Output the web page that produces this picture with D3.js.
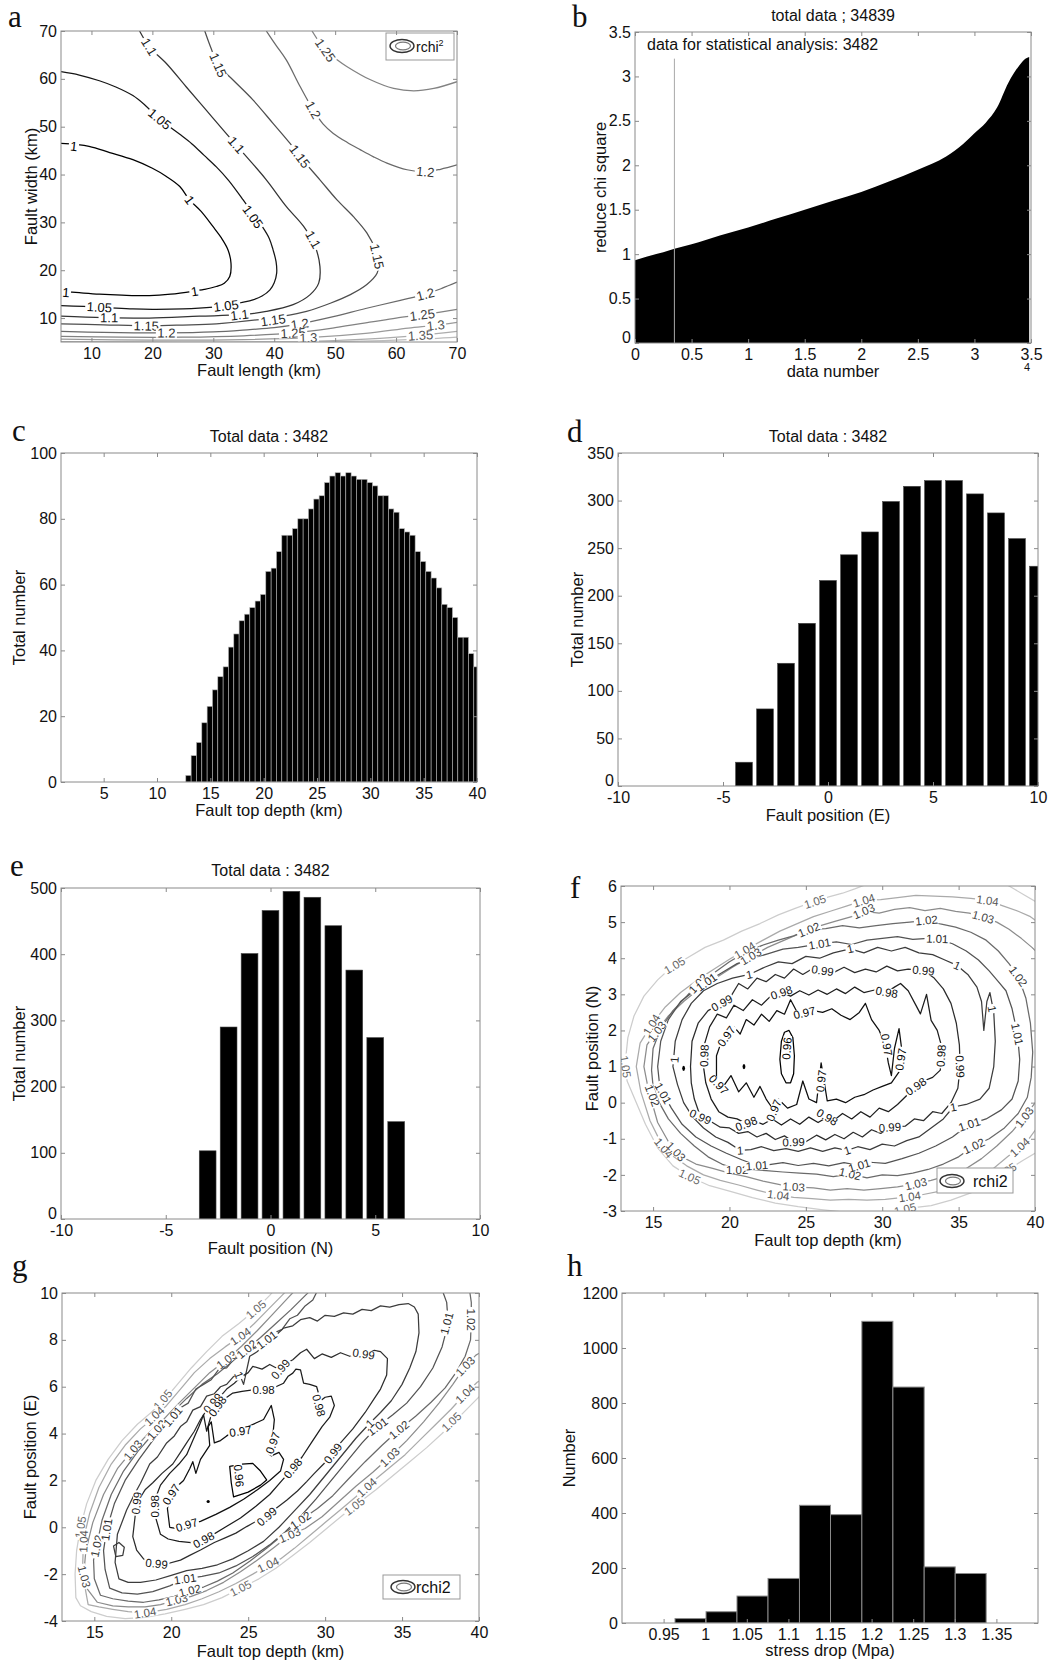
<!DOCTYPE html>
<html>
<head>
<meta charset="utf-8">
<script src="https://cdn.jsdelivr.net/npm/d3@7"></script>
<style>
body { margin: 0; background: #fff; }
</style>
</head>
<body>
<script>
// ---------- data ----------

// (a) rchi^2 over fault length / width
const a100 = [[5,46.5],[9.6,45.9],[13,44.6],[16.8,43.1],[20,41.3],[22.3,39.6],[24.5,37.5],[26.1,34.7],[28,32.3],[29.9,29.2],[31.3,26.8],[32.4,24.3],[32.9,21.5],[32.7,18.7],[31.8,17.3],[30.5,16.6],[28.5,16.0],[26.6,15.6],[23,15.0],[19.5,14.7],[15,14.8],[11.3,15.0],[8,15.3],[5,15.6]];
const a105 = [[5,61.5],[8,60.8],[11.3,59.6],[14,58.3],[16.8,56.5],[18.8,54.5],[20.6,52.3],[22.5,50.3],[24.5,48.4],[26.5,46.4],[28.5,44.0],[30.5,41.6],[32.5,38.8],[34.9,34.7],[36.6,31.6],[38.1,29.0],[39.2,26.6],[39.8,24.3],[40.3,21.8],[40.4,19.4],[40.0,17.4],[39.3,15.9],[38.0,14.6],[36.5,13.8],[34.5,13.2],[33.2,12.8],[30,12.3],[25,11.9],[20,11.8],[16.8,11.9],[11.3,12.3],[5,12.6]];
const a110 = [[17.9,70],[19.5,66.7],[22.3,63.2],[25.5,58.4],[28.8,53.5],[32.1,48.6],[35.4,43.8],[38.7,38.9],[42,33.3],[44.8,29.2],[46.7,25.0],[47.5,20.8],[47.3,17.3],[45.9,14.9],[43.1,12.8],[38.7,11.4],[34.3,10.7],[27.7,10.4],[19.5,10.0],[12,10.1],[5,10.4]];
const a115 = [[28.6,70],[29.6,66.5],[30.8,62.9],[33.2,59.8],[36.5,55.6],[39.8,50.7],[42.6,46.5],[44.2,43.8],[47.5,38.9],[50.3,34.7],[53,31.2],[55.2,27.8],[56.6,24.3],[57.1,21.5],[56.9,19.4],[55.2,17.0],[52.5,14.9],[49.2,13.1],[45.3,11.4],[41.5,10.4],[37.6,9.7],[30.5,8.8],[25,8.55],[19.5,8.4],[12,8.6],[5,8.8]];
const a120u = [[38.7,70],[40.3,67],[42,63.9],[44.2,58.5],[46.4,53.5],[48,50.6],[49.7,48.6],[52,46.7],[54.1,45.2],[56.3,43.7],[58.5,42.4],[61.8,41.0],[64.8,40.6],[67.3,41.1],[70,42.0]];
const a120l = [[5,7.2],[12,7.0],[22.3,6.9],[30,7.1],[36,7.6],[40,8.0],[44.2,8.8],[49.7,10.3],[55,12.0],[60.7,13.7],[64.8,15.0],[67.5,16.2],[70,17.5]];
const a125u = [[46.2,70],[48.4,66.0],[50.2,64.1],[51.9,62.6],[55.8,59.8],[59.6,58.0],[62.9,57.5],[66.2,58.0],[70,59.4]];
const a125l = [[5,6.2],[15,6.0],[25,6.0],[35,6.3],[43.1,6.9],[50,8.0],[56,9.2],[60,10.0],[64.3,10.7],[67,11.2],[70,11.8]];
const a130 = [[5,5.6],[20,5.4],[35,5.5],[45.6,5.9],[55,6.8],[62,7.9],[66.5,8.5],[70,9.1]];
const a135 = [[5,5.1],[25,5.0],[45,5.1],[55,5.6],[64,6.4],[70,7.2]];
const a140 = [[45,5.0],[58,5.3],[66,5.7],[70,6.0]];
const aLabels = [[1.1,19.5,66.7],[1.15,30.8,62.9],[1.25,48.4,66.0],[1.05,21.2,51.6],[1.2,46.4,53.5],[1.1,33.8,46.2],[1.15,44.2,43.8],[1.2,64.8,40.6],[1,7.1,45.9],[1,26.1,34.7],[1.05,36.5,31.2],[1.1,46.4,26.4],[1.15,56.9,22.9],[1,5.8,15.4],[1,26.9,15.6],[1.05,11.3,12.3],[1.05,32.1,12.6],[1.1,12.9,10.1],[1.1,34.3,10.7],[1.15,19.0,8.4],[1.15,39.8,9.6],[1.2,44.2,8.8],[1.2,64.8,15.0],[1.25,43.1,6.9],[1.25,64.3,10.7],[1.3,45.6,5.9],[1.3,66.5,8.5],[1.35,64.0,6.4],[1.2,22.3,6.9]];

// (b) sorted reduced chi square, x in units of 10^4
const bX = [0, 0.1, 0.25, 0.3482, 0.5, 0.75, 1, 1.25, 1.5, 1.75, 2, 2.25, 2.5, 2.75, 2.9, 3.0, 3.1, 3.2, 3.3, 3.4, 3.45, 3.4839];
const bY = [0.93, 0.97, 1.02, 1.06, 1.11, 1.21, 1.30, 1.40, 1.50, 1.60, 1.70, 1.82, 1.95, 2.10, 2.24, 2.36, 2.48, 2.65, 2.93, 3.13, 3.20, 3.22];
const bCut = 0.3482;

// (c) fault top depth histogram
const cCenters = [12.95,13.45,13.95,14.45,14.95,15.45,15.95,16.45,16.95,17.45,17.95,18.45,18.95,19.45,19.95,20.45,20.95,21.45,21.95,22.45,22.95,23.45,23.95,24.45,24.95,25.45,25.95,26.45,26.95,27.45,27.95,28.45,28.95,29.45,29.95,30.45,30.95,31.45,31.95,32.45,32.95,33.45,33.95,34.45,34.95,35.45,35.95,36.45,36.95,37.45,37.95,38.45,38.95,39.45,39.95];
const cCounts = [2,8,12,18,23,28,32,35,41,45,49,51,53,55,57,64,65,70,75,75,77,80,80,83,86,87,91,93,94,93,94,93,92,92,91,90,87,87,83,82,77,76,75,70,67,64,62,59,54,53,50,44,44,39,35];
const cBin = 0.5;

// (d) fault position (E)
const dCenters = [-4,-3,-2,-1,0,1,2,3,4,5,6,7,8,9,10];
const dCounts = [25,81,129,171,216,243,267,299,315,321,321,307,287,260,231];

// (e) fault position (N)
const eCenters = [-3,-2,-1,0,1,2,3,4,5,6];
const eCounts = [103,290,401,466,495,486,443,376,274,147];

// (f) rchi2 over fault top depth / position (N)
const f105 = [[13.15,1.0],[13.35,1.8],[13.75,2.4],[14.4,2.95],[15.3,3.4],[16.2,3.75],[17.2,4.0],[18.4,4.3],[19.6,4.5],[20.8,4.75],[22,4.96],[23.2,5.2],[24.3,5.38],[25.4,5.55],[26.5,5.7],[27.4,5.8],[28.2,5.92],[29,6.05],[31,6.4],[35,6.5],[37.5,6.2],[38.5,5.95],[39.3,5.75],[40.3,5.5],[41,5],[41,-1],[40.2,-1.35],[39.2,-1.6],[38.1,-1.9],[37,-2.2],[35.8,-2.5],[34.5,-2.7],[33.2,-2.85],[31.8,-2.92],[30.5,-3.05],[29,-3.08],[27.5,-3.03],[26,-2.96],[24.5,-2.88],[23,-2.78],[21.5,-2.63],[20,-2.45],[18.7,-2.3],[17.4,-2.05],[16.3,-1.75],[15.3,-1.25],[14.5,-0.6],[13.8,0.1],[13.3,0.6]];
const f104 = [[13.9,1.0],[14.15,1.65],[14.9,2.16],[15.8,2.65],[16.8,3.05],[17.9,3.4],[19,3.7],[20,3.97],[21.1,4.25],[22.2,4.5],[23.3,4.75],[24.4,4.95],[25.5,5.15],[26.6,5.3],[27.7,5.45],[28.8,5.6],[29.9,5.62],[31,5.68],[32.2,5.74],[33.4,5.72],[34.6,5.7],[35.8,5.66],[36.9,5.6],[37.9,5.45],[38.9,5.3],[39.7,5.15],[40.5,4.9],[41,4],[41,0],[40.3,-0.6],[39.6,-1.0],[39,-1.23],[38.2,-1.5],[37.2,-1.85],[36.1,-2.1],[35,-2.3],[33.8,-2.45],[32.6,-2.55],[31.4,-2.62],[30.2,-2.68],[29,-2.7],[27.8,-2.68],[26.6,-2.7],[25.4,-2.66],[24.2,-2.62],[23,-2.55],[21.8,-2.42],[20.6,-2.28],[19.4,-2.15],[18.3,-2.0],[17.2,-1.75],[16.2,-1.45],[15.5,-1.1],[14.8,-0.5],[14.2,0.3]];
const f103 = [[14.4,1.0],[14.6,1.6],[15.2,1.97],[16.0,2.4],[17.0,2.8],[18.0,3.15],[19.1,3.45],[20.2,3.75],[21.4,4.05],[22.5,4.3],[23.6,4.5],[24.7,4.7],[25.8,4.88],[26.9,5.02],[28.0,5.15],[28.8,5.3],[29.8,5.25],[30.8,5.35],[31.8,5.4],[32.8,5.32],[33.8,5.38],[34.8,5.3],[35.7,5.25],[36.6,5.14],[37.5,5.0],[38.3,4.8],[39.1,4.55],[39.8,4.3],[40.5,4.0],[41,2],[41,0.5],[40.2,0.1],[39.3,-0.4],[38.5,-0.8],[37.5,-1.2],[36.5,-1.55],[35.4,-1.85],[34.3,-2.02],[33.2,-2.15],[32.2,-2.25],[31,-2.33],[29.9,-2.38],[28.8,-2.42],[27.7,-2.38],[26.6,-2.42],[25.5,-2.36],[24.2,-2.33],[23.3,-2.27],[22.2,-2.17],[21.1,-2.05],[20,-1.95],[18.9,-1.82],[17.8,-1.7],[16.9,-1.5],[16.1,-1.15],[15.3,-0.55],[14.7,0.35]];
const f102 = [[14.9,0.9],[15.0,1.5],[15.5,2.05],[16.3,2.55],[17.2,2.95],[17.95,3.3],[19,3.6],[20,3.9],[21,4.15],[22.1,4.35],[23.2,4.5],[24.2,4.62],[25.2,4.79],[26.3,4.82],[27.4,4.9],[28.5,4.84],[29.6,4.9],[30.7,4.96],[31.8,5.0],[32.9,5.05],[33.8,4.95],[34.8,4.86],[35.8,4.72],[36.8,4.5],[37.6,4.2],[38.3,3.85],[38.9,3.5],[39.4,2.9],[39.7,2.2],[39.85,1.4],[39.75,0.7],[39.5,0.15],[38.9,-0.3],[38.0,-0.7],[37.0,-1.0],[36.0,-1.2],[35.0,-1.5],[34.0,-1.7],[33.0,-1.85],[32.0,-1.95],[31.0,-2.02],[30.0,-2.0],[29.0,-2.08],[27.9,-1.97],[26.8,-2.05],[25.7,-1.98],[24.6,-1.95],[23.5,-1.92],[22.4,-1.88],[21.4,-1.85],[20.5,-1.85],[19.5,-1.7],[18.6,-1.5],[17.7,-1.2],[16.8,-0.85],[16.0,-0.45],[15.4,0.0],[15.0,0.45]];
const f101 = [[15.3,1.0],[15.5,1.7],[16.0,2.3],[16.8,2.8],[17.7,3.1],[18.5,3.34],[19.5,3.6],[20.5,3.85],[21.5,4.0],[22.5,4.12],[23.5,4.25],[24.5,4.3],[25.9,4.4],[27,4.45],[28,4.38],[29,4.5],[30,4.55],[31,4.6],[32,4.52],[33,4.55],[33.6,4.54],[34.6,4.4],[35.5,4.2],[36.3,3.95],[37.0,3.65],[37.6,3.35],[38.1,3.1],[38.5,2.6],[38.85,1.9],[39.0,1.2],[38.9,0.6],[38.5,0.1],[37.8,-0.2],[36.8,-0.45],[35.7,-0.6],[34.6,-0.95],[33.5,-1.2],[32.4,-1.4],[31.3,-1.55],[30.2,-1.68],[29.2,-1.65],[28.5,-1.74],[27.5,-1.66],[26.5,-1.75],[25.5,-1.68],[24.5,-1.74],[23.5,-1.66],[22.5,-1.72],[21.8,-1.74],[20.8,-1.58],[19.8,-1.4],[18.8,-1.2],[17.8,-0.95],[16.9,-0.6],[16.2,-0.15],[15.66,0.26],[15.4,0.6]];
const f100 = [[16.3,1.0],[16.45,1.7],[16.9,2.3],[17.5,2.75],[18.3,3.1],[19.2,3.3],[20.2,3.45],[21.3,3.55],[22.3,3.75],[23.2,3.9],[24.1,3.85],[25,4.05],[25.9,4.0],[26.8,4.15],[27.9,4.26],[28.8,4.15],[29.7,4.3],[30.6,4.2],[31.5,4.3],[32.4,4.15],[33.3,4.1],[34.1,3.95],[34.9,3.8],[35.6,3.55],[36.2,3.2],[36.5,2.8],[36.65,2.0],[36.85,2.8],[37.05,3.05],[37.3,2.5],[37.4,1.7],[37.3,1.0],[37.0,0.4],[36.4,0.1],[35.5,-0.05],[34.65,-0.12],[34.0,-0.45],[33.2,-0.7],[32.4,-0.95],[31.6,-1.05],[30.8,-1.2],[30.0,-1.15],[29.2,-1.3],[28.4,-1.22],[27.7,-1.32],[26.9,-1.25],[26.1,-1.35],[25.3,-1.25],[24.5,-1.35],[23.7,-1.27],[22.9,-1.33],[22.1,-1.22],[21.4,-1.3],[20.7,-1.32],[19.9,-1.1],[19.1,-0.95],[18.3,-0.7],[17.6,-0.4],[17.0,0.0],[16.6,0.5]];
const f099 = [[17.45,1.0],[17.55,1.7],[17.95,2.2],[18.6,2.55],[19.5,2.76],[20.1,2.95],[20.6,3.3],[21.2,3.15],[21.8,3.45],[22.4,3.35],[23.0,3.55],[23.6,3.45],[24.2,3.7],[24.8,3.55],[25.4,3.7],[26.1,3.66],[26.8,3.6],[27.5,3.75],[28.2,3.6],[28.9,3.7],[29.6,3.62],[30.3,3.78],[31.0,3.65],[31.7,3.7],[32.7,3.66],[33.4,3.45],[34.0,3.15],[34.5,2.75],[34.85,2.2],[35.05,1.6],[35.1,0.99],[34.95,0.4],[34.5,0.0],[33.9,-0.3],[33.3,-0.25],[32.7,-0.5],[32.1,-0.45],[31.5,-0.65],[30.5,-0.68],[29.9,-0.85],[29.3,-0.75],[28.7,-0.95],[28.1,-0.82],[27.5,-1.0],[26.9,-0.88],[26.3,-1.03],[25.7,-0.9],[25.0,-1.08],[24.2,-1.09],[23.6,-0.92],[23.0,-1.02],[22.4,-0.85],[21.8,-0.95],[21.2,-0.8],[20.6,-0.85],[20.0,-0.7],[19.4,-0.68],[18.7,-0.5],[18.1,-0.39],[17.7,0.1],[17.5,0.55]];
const f098 = [[18.3,1.0],[18.35,1.6],[18.7,2.1],[19.2,2.45],[19.8,2.35],[20.3,2.7],[20.9,2.55],[21.5,2.85],[22.1,2.7],[22.7,2.95],[23.4,3.05],[24.0,2.95],[24.6,3.1],[25.2,2.98],[25.8,3.12],[26.4,3.0],[27.0,3.15],[27.6,3.02],[28.2,3.2],[28.8,3.05],[29.5,3.12],[30.3,3.06],[30.8,3.2],[31.2,3.3],[31.7,3.1],[32.2,2.7],[32.5,2.46],[32.9,3.0],[33.2,2.28],[33.6,2.0],[33.9,1.54],[33.8,0.9],[33.3,0.7],[32.7,0.6],[32.2,0.45],[31.6,0.2],[31.0,-0.05],[30.4,-0.25],[29.8,-0.15],[29.2,-0.4],[28.6,-0.25],[28.0,-0.45],[27.4,-0.3],[26.8,-0.5],[26.4,-0.4],[25.8,-0.55],[25.2,-0.4],[24.6,-0.6],[24.0,-0.45],[23.4,-0.62],[22.8,-0.45],[22.2,-0.6],[21.6,-0.5],[21.1,-0.58],[20.5,-0.45],[19.9,-0.4],[19.3,-0.25],[18.8,0.1],[18.45,0.55]];
const f097 = [[19.15,0.65],[19.15,1.3],[19.4,1.6],[19.8,1.84],[20.3,2.1],[20.7,1.9],[21.1,2.3],[21.6,2.15],[22.1,2.45],[22.6,2.25],[23.1,2.55],[23.6,2.45],[24.0,2.85],[24.5,2.45],[24.9,2.49],[25.5,2.55],[26.1,2.5],[26.7,2.6],[27.3,2.42],[27.9,2.3],[28.5,2.5],[28.9,2.75],[29.3,2.3],[29.8,2.0],[30.2,1.6],[30.4,1.1],[30.6,0.75],[30.8,1.5],[31.1,2.05],[31.3,1.4],[31.1,0.85],[30.6,0.55],[30.0,0.45],[29.4,0.35],[28.8,0.22],[28.2,0.15],[27.6,0.0],[27.0,0.1],[26.4,0.05],[26.0,1.1],[25.7,0.0],[25.2,0.1],[24.8,0.6],[24.4,-0.05],[23.8,-0.15],[23.2,0.1],[22.9,-0.21],[22.4,0.1],[22.0,0.45],[21.6,0.15],[21.1,0.55],[20.6,0.3],[20.1,0.75],[19.6,0.45]];
const f096 = [[23.3,1.2],[23.4,1.7],[23.6,1.95],[23.9,2.0],[24.15,1.8],[24.25,1.3],[24.2,0.8],[24.0,0.55],[23.7,0.55],[23.4,0.8]];
const fDots = [[20.95,1.0],[17.0,0.95]];
const fLabels = [[1.05,25.6,5.57],[1.05,16.4,3.8],[1.05,13.2,1.0],[1.05,17.4,-2.05],[1.05,31.5,-2.95],[1.05,38.1,-1.9],
  [1.04,28.8,5.6],[1.04,36.9,5.6],[1.04,21.0,4.22],[1.04,14.9,2.16],[1.04,15.7,-1.25],[1.04,23.2,-2.56],[1.04,31.8,-2.6],[1.04,39.0,-1.23],
  [1.03,28.8,5.3],[1.03,36.6,5.14],[1.03,21.4,4.05],[1.03,15.25,1.97],[1.03,16.5,-1.35],[1.03,24.2,-2.33],[1.03,32.2,-2.25],[1.03,39.3,-0.4],
  [1.02,25.2,4.79],[1.02,32.9,5.05],[1.02,17.95,3.3],[1.02,14.95,0.2],[1.02,20.5,-1.85],[1.02,27.9,-1.97],[1.02,36.0,-1.2],[1.02,38.9,3.5],
  [1.01,25.9,4.4],[1.01,33.6,4.54],[1.01,18.5,3.34],[1.01,15.66,0.26],[1.01,21.8,-1.74],[1.01,28.5,-1.74],[1.01,35.7,-0.6],[1.01,38.85,1.9],
  [1,21.3,3.55],[1,27.9,4.26],[1,34.9,3.8],[1,37.2,2.6],[1,16.4,1.19],[1,20.7,-1.32],[1,27.7,-1.32],[1,34.65,-0.12],
  [0.99,19.5,2.76],[0.99,26.1,3.66],[0.99,32.7,3.66],[0.99,35.1,1.0],[0.99,30.5,-0.68],[0.99,24.2,-1.09],[0.99,18.1,-0.39],
  [0.98,23.4,3.05],[0.98,30.3,3.06],[0.98,18.35,1.3],[0.98,33.85,1.3],[0.98,32.2,0.45],[0.98,26.4,-0.4],[0.98,21.1,-0.58],
  [0.97,24.9,2.49],[0.97,19.8,1.84],[0.97,19.3,0.5],[0.97,22.9,-0.21],[0.97,30.3,1.6],[0.97,31.2,1.2],[0.97,26.0,0.6],
  [0.96,23.75,1.5]];

// (g) rchi2 over fault top depth / position (E)
const g105 = [[13.8,-3.0],[13.75,-2.0],[13.85,-1.0],[14.1,0.0],[14.5,1.0],[15.1,2.0],[15.9,2.9],[16.8,3.7],[17.8,4.4],[18.7,4.9],[19.5,5.4],[20.4,6.1],[21.3,6.8],[22.3,7.5],[23.3,8.15],[24.4,8.7],[25.5,9.3],[26.4,9.9],[27.2,10.5],[40.5,10.5],[40.5,5.9],[39.6,5.3],[38.7,4.7],[37.6,4.0],[36.6,3.4],[35.5,2.8],[34.4,2.2],[33.3,1.6],[32.3,1.1],[31.2,0.55],[30.1,-0.05],[29.0,-0.65],[27.9,-1.2],[26.8,-1.75],[25.7,-2.2],[24.5,-2.6],[23.3,-3.0],[22.1,-3.3],[20.9,-3.5],[19.6,-3.7],[18.3,-3.85],[17.0,-3.9],[15.8,-3.8],[14.8,-3.6],[14.1,-3.35]];
const g104 = [[14.6,-3.3],[14.35,-2.4],[14.25,-1.5],[14.3,-0.5],[14.7,0.6],[15.3,1.7],[16.1,2.7],[17.0,3.5],[18.0,4.2],[18.9,4.7],[19.7,5.2],[20.6,5.9],[21.5,6.6],[22.5,7.2],[23.5,7.7],[24.5,8.15],[25.4,8.7],[26.3,9.3],[27.2,9.9],[28.1,10.5],[40.5,10.5],[40.5,6.4],[39.9,6.2],[39.1,5.7],[38.2,5.05],[37.2,4.4],[36.2,3.75],[35.2,3.1],[34.1,2.5],[33.0,1.9],[32.0,1.3],[31.0,0.75],[30.0,0.2],[29.0,-0.35],[28.0,-0.9],[27.1,-1.35],[26.3,-1.6],[25.3,-2.0],[24.2,-2.4],[23.1,-2.75],[22.0,-3.05],[20.9,-3.3],[19.7,-3.5],[18.3,-3.65],[17.2,-3.6],[16.2,-3.5],[15.3,-3.4]];
const g103 = [[15.2,-3.2],[14.5,-2.6],[14.3,-2.1],[14.45,-1.0],[14.9,0.2],[15.6,1.4],[16.5,2.5],[17.5,3.3],[18.5,4.0],[19.5,4.6],[20.5,5.3],[21.5,5.95],[22.5,6.6],[23.6,7.15],[24.6,7.75],[25.6,8.4],[26.6,9.1],[27.6,9.8],[28.6,10.5],[40.5,10.5],[40.5,7.6],[39.8,7.35],[39.1,6.87],[38.3,6.1],[37.4,5.3],[36.4,4.5],[35.3,3.7],[34.2,3.0],[33.1,2.35],[32.0,1.75],[30.9,1.1],[29.8,0.45],[28.7,-0.05],[27.7,-0.33],[26.7,-0.85],[25.6,-1.4],[24.5,-1.9],[23.4,-2.35],[22.3,-2.7],[21.3,-2.95],[20.35,-3.1],[19.3,-3.3],[18.3,-3.4],[17.2,-3.4],[16.2,-3.35]];
const g102 = [[15.4,-2.9],[15.0,-2.2],[14.95,-1.4],[15.15,-0.8],[15.5,0.3],[16.1,1.4],[16.9,2.4],[17.9,3.3],[19.05,4.16],[20.0,4.85],[21.0,5.5],[22.0,6.1],[23.0,6.55],[24.0,7.1],[24.9,7.6],[25.8,8.1],[26.8,8.7],[27.8,9.3],[28.8,9.95],[29.6,10.5],[39.3,10.5],[39.5,9.6],[39.5,8.86],[39.45,8.0],[39.1,7.3],[38.5,6.6],[37.8,5.95],[36.9,5.35],[35.9,4.75],[34.8,4.16],[33.7,3.5],[32.6,2.8],[31.5,2.05],[30.5,1.35],[29.5,0.8],[28.4,0.3],[27.3,-0.3],[26.2,-0.9],[25.1,-1.45],[24.0,-1.95],[23.0,-2.3],[22.1,-2.55],[21.2,-2.7],[20.2,-2.95],[19.2,-3.1],[18.2,-3.2],[17.2,-3.15],[16.2,-3.05]];
const g101 = [[16.0,-2.6],[15.7,-1.8],[15.6,-1.0],[15.8,-0.1],[16.3,1.0],[17.0,2.0],[17.9,2.9],[18.9,3.8],[20.1,4.73],[20.6,5.1],[21.1,5.3],[21.6,5.9],[22.1,6.1],[22.6,6.3],[23.1,6.75],[23.6,6.8],[24.1,7.2],[24.6,7.3],[25.1,7.55],[25.6,7.7],[26.2,8.0],[26.7,8.3],[27.2,8.45],[27.7,8.9],[28.2,9.05],[28.7,9.45],[29.2,9.7],[29.8,10.5],[37.4,10.5],[37.9,9.6],[38.0,8.7],[37.6,7.7],[37.0,6.8],[36.2,6.0],[35.3,5.3],[34.4,4.8],[33.4,4.3],[32.4,3.6],[31.4,2.8],[30.4,2.0],[29.4,1.2],[28.4,0.46],[27.4,-0.2],[26.4,-0.75],[25.3,-1.25],[24.2,-1.65],[23.1,-1.95],[22.0,-2.1],[20.9,-2.2],[19.9,-2.5],[18.8,-2.75],[17.8,-2.85],[16.8,-2.8]];
const g100 = [[16.6,-2.2],[16.35,-1.5],[16.5,-0.3],[17.1,0.74],[17.6,1.4],[18.0,1.88],[18.6,2.7],[19.1,3.0],[19.7,3.6],[20.2,3.9],[20.6,4.3],[21.0,4.5],[21.4,5.0],[21.9,5.15],[22.3,5.6],[22.8,5.7],[23.2,6.0],[23.6,6.1],[24.0,6.4],[24.4,6.6],[24.7,6.1],[25.1,7.3],[25.6,7.5],[26.2,8.0],[26.8,8.2],[27.3,8.5],[27.9,8.6],[28.4,8.86],[29.0,8.95],[29.5,8.8],[30.0,9.05],[30.6,9.0],[31.2,9.15],[31.8,9.1],[32.4,9.3],[33.0,9.25],[33.6,9.45],[34.2,9.4],[34.8,9.5],[35.4,9.55],[35.8,9.4],[36.05,9.1],[36.1,8.3],[35.9,7.5],[35.5,6.8],[35.0,6.1],[34.3,5.4],[33.6,4.9],[32.9,4.44],[32.0,3.8],[31.0,3.0],[30.0,2.2],[29.0,1.4],[28.0,0.7],[27.0,0.0],[26.0,-0.6],[25.0,-1.0],[24.0,-1.35],[23.0,-1.6],[22.0,-1.75],[21.0,-1.85],[20.0,-2.05],[19.0,-2.25],[18.0,-2.35],[17.2,-2.35]];
const g100b = [[16.25,-0.8],[16.6,-0.65],[16.95,-0.85],[16.85,-1.2],[16.4,-1.25]];
const g099 = [[17.75,-0.97],[17.5,-0.4],[17.75,1.03],[18.3,1.6],[18.8,1.9],[19.4,2.3],[20.1,2.7],[20.6,3.2],[21.0,3.6],[21.5,4.1],[21.9,4.6],[22.3,5.0],[22.7,5.3],[23.2,5.6],[23.6,5.9],[24.1,6.15],[24.5,6.4],[25.0,6.6],[25.3,6.87],[25.9,6.75],[26.4,6.95],[27.1,6.7],[27.5,7.0],[27.9,7.15],[28.4,7.45],[28.8,7.6],[29.3,7.2],[29.8,7.4],[30.4,7.25],[31.0,7.45],[31.6,7.3],[32.2,7.45],[32.7,7.4],[33.2,7.55],[33.6,7.5],[34.05,7.2],[34.0,6.5],[33.6,5.9],[33.2,5.5],[32.6,4.9],[31.8,4.2],[31.0,3.6],[30.5,3.16],[29.9,2.7],[29.3,2.3],[28.8,1.95],[28.2,1.55],[27.5,1.15],[26.8,0.8],[26.2,0.46],[25.5,0.25],[24.9,0.03],[24.2,-0.25],[23.5,-0.45],[22.8,-0.65],[21.9,-0.97],[21.2,-1.2],[20.6,-1.4],[19.5,-1.6],[18.8,-1.55],[18.2,-1.35]];
const g098 = [[19.3,-0.3],[18.95,0.5],[18.95,1.2],[19.3,1.8],[19.9,2.3],[20.5,2.7],[21.0,3.1],[21.4,3.7],[21.8,4.3],[22.1,4.8],[22.3,4.1],[22.6,4.8],[23.0,5.16],[23.5,5.5],[24.0,5.73],[24.6,5.8],[25.3,5.87],[26.2,5.87],[26.8,6.0],[27.3,6.15],[27.6,6.45],[27.9,6.58],[28.1,6.75],[28.4,6.72],[28.6,6.15],[29.0,6.1],[29.45,6.0],[29.7,5.4],[30.0,5.55],[30.4,5.6],[30.6,5.2],[30.3,4.7],[29.8,4.3],[29.1,3.6],[28.5,3.0],[27.9,2.52],[27.2,2.0],[26.4,1.4],[25.5,0.9],[24.5,0.4],[23.5,0.0],[22.5,-0.4],[22.1,-0.54],[21.3,-0.65],[20.5,-0.6],[19.8,-0.5]];
const g097 = [[19.9,0.0],[19.75,0.8],[19.9,1.3],[20.3,1.7],[20.8,2.0],[21.2,2.5],[21.4,2.8],[21.6,2.3],[21.9,2.9],[22.2,3.2],[22.5,3.5],[22.4,4.3],[22.6,4.5],[22.8,3.6],[23.2,3.7],[23.6,3.9],[24.0,4.05],[24.5,4.1],[25.0,4.3],[25.5,4.45],[26.0,4.6],[26.5,5.2],[26.7,4.6],[26.6,3.9],[26.2,3.2],[26.5,3.05],[27.0,3.2],[27.3,2.9],[27.1,2.4],[26.4,2.0],[25.6,1.6],[24.7,1.2],[23.8,0.85],[22.9,0.55],[21.9,0.25],[20.9,0.05],[20.3,-0.05]];
const g096 = [[23.8,2.6],[23.9,1.9],[24.05,1.3],[25.0,1.5],[25.8,1.8],[26.2,2.02],[25.8,2.4],[25.3,2.73],[24.6,2.7]];
const gDots = [[22.4,1.1]];
const gLabels = [[1.05,14.1,0.0],[1.05,19.45,5.45],[1.05,25.5,9.3],[1.05,38.2,4.5],[1.05,31.9,0.9],[1.05,24.5,-2.6],
  [1.04,14.3,-0.6],[1.04,18.9,4.75],[1.04,24.5,8.15],[1.04,39.1,5.7],[1.04,32.7,1.7],[1.04,26.3,-1.6],[1.04,18.3,-3.65],
  [1.03,14.35,-2.1],[1.03,17.5,3.3],[1.03,23.6,7.15],[1.03,39.1,6.87],[1.03,34.2,3.0],[1.03,27.7,-0.33],[1.03,20.35,-3.1],
  [1.02,15.15,-0.8],[1.02,19.05,4.16],[1.02,24.9,7.6],[1.02,39.5,8.86],[1.02,34.8,4.16],[1.02,28.4,0.3],[1.02,21.2,-2.7],
  [1.01,15.8,-0.1],[1.01,20.1,4.73],[1.01,26.2,8.0],[1.01,37.9,8.7],[1.01,33.4,4.3],[1.01,20.9,-2.2],
  [1,24.4,6.5],[1,32.9,4.44],
  [0.99,17.75,1.03],[0.99,22.7,5.3],[0.99,27.1,6.75],[0.99,32.5,7.4],[0.99,30.5,3.16],[0.99,26.2,0.46],[0.99,19.05,-1.55],
  [0.98,18.95,0.9],[0.98,23.0,5.16],[0.98,26.0,5.87],[0.98,29.6,5.2],[0.98,27.9,2.52],[0.98,22.1,-0.54],
  [0.97,24.5,4.1],[0.97,26.6,3.6],[0.97,20.0,1.4],[0.97,21.0,0.1],
  [0.96,24.4,2.2]];

// (h) stress drop histogram
const hEdges = [0.9637,1.0010,1.0382,1.0755,1.1133,1.1506,1.1883,1.2256,1.2632,1.3005,1.3377];
const hCounts = [16,41,98,162,428,394,1097,858,204,180];

// ---------- drawing ----------
const SANS = '"Liberation Sans", Arial, Helvetica, sans-serif';
const SERIF = '"Liberation Serif", "Times New Roman", serif';
const FRAME = "#8a8a8a";

const svg = d3.select("body").append("svg")
    .attr("width", 1048).attr("height", 1664)
    .style("background", "#fff");
const defs = svg.append("defs");

function makePanel(id, box, xd, yd) {
    var x = d3.scaleLinear().domain(xd).range([box.l, box.r]);
    var y = d3.scaleLinear().domain(yd).range([box.b, box.t]);
    defs.append("clipPath").attr("id", "clip-" + id)
        .append("rect")
        .attr("x", box.l).attr("y", box.t)
        .attr("width", box.r - box.l).attr("height", box.b - box.t);
    var g = svg.append("g").attr("id", "panel-" + id);
    var plot = g.append("g").attr("clip-path", "url(#clip-" + id + ")");
    return {id: id, box: box, x: x, y: y, g: g, plot: plot};
}

function fmt(d) { return String(+d.toFixed(3)); }

// liftZero: nudge the y "0" up a little where it sits on top of the first x label
function drawFrame(p, xt, yt, liftZero) {
    var b = p.box;
    var axes = p.g.append("g");
    function style(sel) {
        sel.attr("font-family", SANS).attr("font-size", 16).style("color", "#111");
        sel.selectAll(".tick line").attr("stroke", FRAME);
        sel.select(".domain").remove();
    }
    axes.append("g").attr("transform", "translate(0," + b.b + ")")
        .call(d3.axisBottom(p.x).tickValues(xt).tickSize(-4).tickPadding(6).tickFormat(fmt)).call(style);
    axes.append("g").attr("transform", "translate(0," + b.t + ")")
        .call(d3.axisTop(p.x).tickValues(xt).tickSize(-4).tickFormat("")).call(style);
    var yax = axes.append("g").attr("transform", "translate(" + b.l + ",0)")
        .call(d3.axisLeft(p.y).tickValues(yt).tickSize(-4).tickPadding(4).tickFormat(fmt)).call(style);
    axes.append("g").attr("transform", "translate(" + b.r + ",0)")
        .call(d3.axisRight(p.y).tickValues(yt).tickSize(-4).tickFormat("")).call(style);
    if (liftZero) yax.selectAll(".tick").filter(d => d === 0).select("text").attr("y", -6);
    axes.append("rect")
        .attr("x", b.l).attr("y", b.t)
        .attr("width", b.r - b.l).attr("height", b.b - b.t)
        .attr("fill", "none").attr("stroke", FRAME).attr("stroke-width", 1);
}

function addTexts(p, o) {
    var b = p.box, cx = (b.l + b.r) / 2;
    if (o.title) p.g.append("text").attr("x", cx).attr("y", o.titleY)
        .attr("text-anchor", "middle").attr("font-family", SANS).attr("font-size", 16).attr("fill", "#111")
        .text(o.title);
    p.g.append("text").attr("x", cx).attr("y", o.xlabY)
        .attr("text-anchor", "middle").attr("font-family", SANS).attr("font-size", 16.5).attr("fill", "#111")
        .text(o.xlab);
    p.g.append("text")
        .attr("transform", "translate(" + o.ylabX + "," + (b.t + b.b) / 2 + ") rotate(-90)")
        .attr("text-anchor", "middle").attr("font-family", SANS).attr("font-size", 16.5).attr("fill", "#111")
        .text(o.ylab);
    svg.append("text").attr("x", o.letter[1]).attr("y", o.letter[2])
        .attr("font-family", SERIF).attr("font-size", 31).attr("fill", "#111")
        .text(o.letter[0]);
}

function segDist(px, py, ax, ay, bx, by) {
    var dx = bx - ax, dy = by - ay, l2 = dx * dx + dy * dy;
    var t = l2 ? Math.max(0, Math.min(1, ((px - ax) * dx + (py - ay) * dy) / l2)) : 0;
    var qx = ax + t * dx - px, qy = ay + t * dy - py;
    return Math.sqrt(qx * qx + qy * qy);
}

// angle of the nearest stretch of the same level, so a label runs along its line
function labelAngle(p, lines, lev, lx, ly, closed) {
    var px = p.x(lx), py = p.y(ly), best = Infinity, ang = 0;
    lines.filter(l => l[0] === lev).forEach(function (l) {
        var pts = l[1], n = pts.length, last = closed ? n : n - 1;
        for (var i = 0; i < last; i++) {
            var a = pts[i], c = pts[(i + 1) % n];
            var ax = p.x(a[0]), ay = p.y(a[1]), bx = p.x(c[0]), by = p.y(c[1]);
            var d = segDist(px, py, ax, ay, bx, by);
            if (d < best) { best = d; ang = Math.atan2(by - ay, bx - ax) * 180 / Math.PI; }
        }
    });
    if (ang > 90) ang -= 180;
    if (ang < -90) ang += 180;
    return ang;
}

function drawContours(p, lines, labels, gray, curve, closed, fs) {
    var line = d3.line().x(d => p.x(d[0])).y(d => p.y(d[1])).curve(curve);
    p.plot.selectAll("path.cl").data(lines).join("path")
        .attr("class", "cl")
        .attr("d", d => line(d[1]))
        .attr("fill", "none")
        .attr("stroke", d => gray(d[0]))
        .attr("stroke-width", 1.25)
        .attr("stroke-linejoin", "round");
    var lg = p.plot.selectAll("g.cv").data(labels).join("g")
        .attr("class", "cv")
        .attr("transform", d => "translate(" + p.x(d[1]) + "," + p.y(d[2]) + ") rotate(" +
            labelAngle(p, lines, d[0], d[1], d[2], closed) + ")");
    lg.append("text")
        .attr("text-anchor", "middle").attr("dy", "0.36em")
        .attr("font-family", SANS).attr("font-size", fs)
        .attr("fill", d => d3.interpolateRgb(gray(d[0]), "#000")(0.5))
        .text(d => String(d[0]));
    // break the line under each label, like an inline clabel
    lg.each(function () {
        var w = d3.select(this).select("text").node().getComputedTextLength();
        d3.select(this).insert("rect", "text")
            .attr("x", -w / 2 - 1.5).attr("y", -fs * 0.36)
            .attr("width", w + 3).attr("height", fs * 0.74)
            .attr("fill", "#fff");
    });
}

function legend(p, bx, by, bw, bh, ex, ey, tx, ty, sup) {
    var lg = p.g.append("g");
    lg.append("rect").attr("x", bx).attr("y", by).attr("width", bw).attr("height", bh)
        .attr("fill", "#fff").attr("stroke", "#999").attr("stroke-width", 1);
    lg.append("ellipse").attr("cx", ex).attr("cy", ey).attr("rx", 12).attr("ry", 6.5)
        .attr("fill", "none").attr("stroke", "#333").attr("stroke-width", 1.4);
    lg.append("ellipse").attr("cx", ex + 1).attr("cy", ey).attr("rx", 7.5).attr("ry", 3.8)
        .attr("fill", "none").attr("stroke", "#777").attr("stroke-width", 1.2);
    var t = lg.append("text").attr("x", tx).attr("y", ty)
        .attr("font-family", SANS).attr("font-size", sup ? 14 : 16).attr("fill", "#111");
    if (sup) {
        t.append("tspan").text("rchi");
        t.append("tspan").attr("dy", -6).attr("font-size", 9).text("2");
    } else {
        t.text("rchi2");
    }
}

// ----- (a) -----
const pa = makePanel("a", {l: 61, t: 31, r: 457, b: 342}, [5, 70], [5, 70]);
const aLines = [[1, a100], [1.05, a105], [1.1, a110], [1.15, a115], [1.2, a120u], [1.2, a120l],
    [1.25, a125u], [1.25, a125l], [1.3, a130], [1.35, a135], [1.4, a140]];
const grayA = d3.scaleLinear().domain([1, 1.05, 1.1, 1.2, 1.3, 1.4])
    .range(["#000", "#151515", "#333", "#6a6a6a", "#9a9a9a", "#bdbdbd"]);
drawContours(pa, aLines, aLabels, grayA, d3.curveCatmullRom.alpha(0.5), false, 13);
legend(pa, 386, 33, 68, 27, 402, 46, 416, 52, true);
drawFrame(pa, [10, 20, 30, 40, 50, 60, 70], [10, 20, 30, 40, 50, 60, 70]);
addTexts(pa, {xlab: "Fault length (km)", xlabY: 376, ylab: "Fault width (km)", ylabX: 37, letter: ["a", 8, 27]});

// ----- (b) -----
const pb = makePanel("b", {l: 635, t: 32, r: 1031, b: 343}, [0, 3.5], [0, 3.5]);
const bData = bX.map((v, i) => [v, bY[i]]);
pb.plot.append("path").datum(bData)
    .attr("d", d3.area().x(d => pb.x(d[0])).y0(pb.y(0)).y1(d => pb.y(d[1])).curve(d3.curveMonotoneX))
    .attr("fill", "#000");
pb.plot.append("line")
    .attr("x1", pb.x(bCut)).attr("x2", pb.x(bCut))
    .attr("y1", pb.y(0)).attr("y2", pb.y(3.2))
    .attr("stroke", "#a8a8a8").attr("stroke-width", 1);
pb.g.append("text").attr("x", 647).attr("y", 50)
    .attr("font-family", SANS).attr("font-size", 16).attr("fill", "#111")
    .text("data for statistical analysis: 3482");
drawFrame(pb, [0, 0.5, 1, 1.5, 2, 2.5, 3, 3.5], [0, 0.5, 1, 1.5, 2, 2.5, 3, 3.5], true);
pb.g.append("text").attr("x", 1027).attr("y", 371).attr("text-anchor", "middle")
    .attr("font-family", SANS).attr("font-size", 11).attr("fill", "#111").text("4");
addTexts(pb, {title: "total data ; 34839", titleY: 21, xlab: "data number", xlabY: 377,
    ylab: "reduce chi square", ylabX: 606, letter: ["b", 572, 27]});

// ----- (c) -----
const pc = makePanel("c", {l: 61, t: 453, r: 477, b: 782}, [1, 40], [0, 100]);
pc.plot.selectAll("rect.bar").data(cCenters).join("rect")
    .attr("class", "bar")
    .attr("x", d => pc.x(d - cBin / 2))
    .attr("width", d => pc.x(d + cBin / 2) - pc.x(d - cBin / 2))
    .attr("y", (d, i) => pc.y(cCounts[i]))
    .attr("height", (d, i) => pc.y(0) - pc.y(cCounts[i]))
    .attr("fill", "#000").attr("stroke", "#b5b5b5").attr("stroke-width", 0.6);
drawFrame(pc, [5, 10, 15, 20, 25, 30, 35, 40], [0, 20, 40, 60, 80, 100]);
addTexts(pc, {title: "Total data : 3482", titleY: 442, xlab: "Fault top depth (km)", xlabY: 816,
    ylab: "Total number", ylabX: 25, letter: ["c", 12, 441]});

// ----- (d) -----
const pd = makePanel("d", {l: 618, t: 453, r: 1038, b: 786}, [-10, 10], [0, 350]);
pd.plot.selectAll("rect.bar").data(dCenters).join("rect")
    .attr("class", "bar")
    .attr("x", d => pd.x(d - 0.4))
    .attr("width", d => pd.x(d + 0.4) - pd.x(d - 0.4))
    .attr("y", (d, i) => pd.y(dCounts[i]))
    .attr("height", (d, i) => pd.y(0) - pd.y(dCounts[i]))
    .attr("fill", "#000").attr("stroke", "#444").attr("stroke-width", 0.6);
drawFrame(pd, [-10, -5, 0, 5, 10], [0, 50, 100, 150, 200, 250, 300, 350], true);
addTexts(pd, {title: "Total data : 3482", titleY: 442, xlab: "Fault position (E)", xlabY: 821,
    ylab: "Total number", ylabX: 583, letter: ["d", 567, 442]});

// ----- (e) -----
const pe = makePanel("e", {l: 61, t: 888, r: 480, b: 1219}, [-10, 10], [0, 500]);
pe.plot.selectAll("rect.bar").data(eCenters).join("rect")
    .attr("class", "bar")
    .attr("x", d => pe.x(d - 0.4))
    .attr("width", d => pe.x(d + 0.4) - pe.x(d - 0.4))
    .attr("y", (d, i) => pe.y(eCounts[i]))
    .attr("height", (d, i) => pe.y(0) - pe.y(eCounts[i]))
    .attr("fill", "#000").attr("stroke", "#444").attr("stroke-width", 0.6);
drawFrame(pe, [-10, -5, 0, 5, 10], [0, 100, 200, 300, 400, 500], true);
addTexts(pe, {title: "Total data : 3482", titleY: 876, xlab: "Fault position (N)", xlabY: 1254,
    ylab: "Total number", ylabX: 25, letter: ["e", 10, 876]});

// ----- (f) -----
const grayFG = d3.scaleLinear().domain([0.96, 0.98, 1.0, 1.02, 1.03, 1.04, 1.05])
    .range(["#000", "#1c1c1c", "#3c3c3c", "#6a6a6a", "#8c8c8c", "#aaaaaa", "#cdcdcd"]);
const pf = makePanel("f", {l: 621, t: 886, r: 1035, b: 1211}, [12.9, 40], [-3, 6]);
const fLines = [[1.05, f105], [1.04, f104], [1.03, f103], [1.02, f102], [1.01, f101], [1, f100],
    [0.99, f099], [0.98, f098], [0.97, f097], [0.96, f096]];
drawContours(pf, fLines, fLabels, grayFG, d3.curveLinearClosed, true, 11.5);
pf.plot.selectAll("ellipse.dot").data(fDots).join("ellipse").attr("class", "dot")
    .attr("cx", d => pf.x(d[0])).attr("cy", d => pf.y(d[1])).attr("rx", 1.4).attr("ry", 2.6).attr("fill", "#000");
legend(pf, 937, 1168, 76, 25, 952, 1181, 973, 1187, false);
drawFrame(pf, [15, 20, 25, 30, 35, 40], [-3, -2, -1, 0, 1, 2, 3, 4, 5, 6]);
addTexts(pf, {xlab: "Fault top depth (km)", xlabY: 1246, ylab: "Fault position (N)", ylabX: 598,
    letter: ["f", 570, 898]});

// ----- (g) -----
const pg = makePanel("g", {l: 62, t: 1293, r: 479, b: 1621}, [12.9, 40], [-4, 10]);
const gLines = [[1.05, g105], [1.04, g104], [1.03, g103], [1.02, g102], [1.01, g101], [1, g100], [1, g100b],
    [0.99, g099], [0.98, g098], [0.97, g097], [0.96, g096]];
drawContours(pg, gLines, gLabels, grayFG, d3.curveLinearClosed, true, 11.5);
pg.plot.selectAll("ellipse.dot").data(gDots).join("ellipse").attr("class", "dot")
    .attr("cx", d => pg.x(d[0])).attr("cy", d => pg.y(d[1])).attr("rx", 1.6).attr("ry", 1.6).attr("fill", "#000");
legend(pg, 383, 1575, 77, 24, 403, 1587, 416, 1593, false);
drawFrame(pg, [15, 20, 25, 30, 35, 40], [-4, -2, 0, 2, 4, 6, 8, 10]);
addTexts(pg, {xlab: "Fault top depth (km)", xlabY: 1657, ylab: "Fault position (E)", ylabX: 36,
    letter: ["g", 12, 1276]});

// ----- (h) -----
const ph = makePanel("h", {l: 622, t: 1293, r: 1038, b: 1623}, [0.9, 1.4], [0, 1200]);
ph.plot.selectAll("rect.bar").data(hCounts).join("rect")
    .attr("class", "bar")
    .attr("x", (d, i) => ph.x(hEdges[i]))
    .attr("width", (d, i) => ph.x(hEdges[i + 1]) - ph.x(hEdges[i]))
    .attr("y", d => ph.y(d))
    .attr("height", d => ph.y(0) - ph.y(d))
    .attr("fill", "#000").attr("stroke", "#8a8a8a").attr("stroke-width", 1);
drawFrame(ph, [0.95, 1, 1.05, 1.1, 1.15, 1.2, 1.25, 1.3, 1.35], [0, 200, 400, 600, 800, 1000, 1200]);
addTexts(ph, {xlab: "stress drop (Mpa)", xlabY: 1656, ylab: "Number", ylabX: 575, letter: ["h", 567, 1276]});
</script>
</body>
</html>
